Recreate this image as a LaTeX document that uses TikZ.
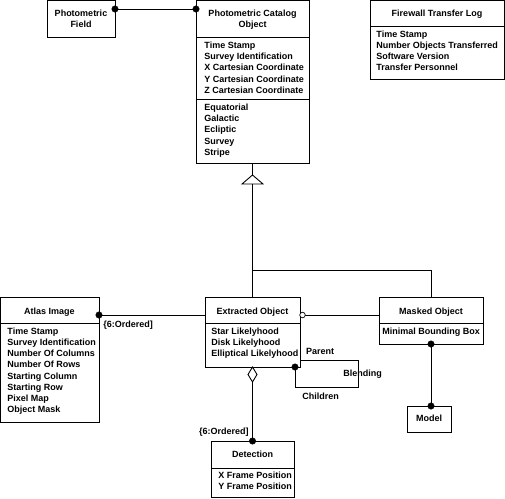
\documentclass[tikz,border=0pt]{standalone}
\usepackage{fontspec}
\setmainfont{Liberation Sans}
\begin{document}
\begin{tikzpicture}[x=1pt,y=-1pt,line width=0.9pt,
  box/.style={draw,anchor=north west,inner sep=0pt,outer sep=0pt},
  txt/.style={font=\fontsize{9}{11}\selectfont\bfseries,inner sep=0pt,text height=6.5pt,text depth=1.8pt},
  attr/.style={txt,anchor=west},
  ttl/.style={txt,anchor=center},
  dot/.style={circle,fill,draw,inner sep=0pt,minimum size=6.5pt,line width=0.4pt},
  odot/.style={circle,draw,fill=white,inner sep=0pt,minimum size=5.5pt,line width=0.7pt}]
\useasboundingbox (0,0) rectangle (505,498);

% ---------- boxes ----------
\node[box,minimum width=68pt,minimum height=36.5pt] (field) at (47,0.5) {};
\node[box,minimum width=113pt,minimum height=162.5pt] (cat) at (196,0.5) {};
\node[box,minimum width=134pt,minimum height=78.5pt] (fw) at (370,0.5) {};
\node[box,minimum width=98.5pt,minimum height=125pt] (atlas) at (0.5,297) {};
\node[box,minimum width=95pt,minimum height=70pt] (ext) at (205,297) {};
\node[box,minimum width=104pt,minimum height=47pt] (mask) at (379,297) {};
\node[box,minimum width=44pt,minimum height=26pt] (model) at (407,406) {};
\node[box,minimum width=83pt,minimum height=56pt] (det) at (211,441) {};

% dividers
\draw (cat.west |- 0,37) -- (cat.east |- 0,37);
\draw (cat.west |- 0,99) -- (cat.east |- 0,99);
\draw (fw.west |- 0,26) -- (fw.east |- 0,26);
\draw (atlas.west |- 0,323) -- (atlas.east |- 0,323);
\draw (ext.west |- 0,323) -- (ext.east |- 0,323);
\draw (mask.west |- 0,323) -- (mask.east |- 0,323);
\draw (det.west |- 0,468) -- (det.east |- 0,468);

% ---------- texts ----------
\node[ttl] (t1) at (81,14) {Photometric};
\node[ttl] (t2) at (81,25) {Field};

\node[ttl] (t3) at (252.5,14) {Photometric Catalog};
\node[ttl] (t4) at (252.5,25) {Object};
\node[attr] (c1) at (204,46) {Time Stamp};
\node[attr] (c2) at (204,57) {Survey Identification};
\node[attr] (c3) at (204,68.5) {X Cartesian Coordinate};
\node[attr] (c4) at (204,80) {Y Cartesian Coordinate};
\node[attr] (c5) at (204,91) {Z Cartesian Coordinate};
\node[attr] (c6) at (204,108) {Equatorial};
\node[attr] (c7) at (204,119) {Galactic};
\node[attr] (c8) at (204,130) {Ecliptic};
\node[attr] (c9) at (204,142) {Survey};
\node[attr] (c10) at (204,153) {Stripe};

\node[ttl] (t5) at (437,14) {Firewall Transfer Log};
\node[attr] (f1) at (376,35) {Time Stamp};
\node[attr] (f2) at (376,46) {Number Objects Transferred};
\node[attr] (f3) at (376,57) {Software Version};
\node[attr] (f4) at (376,68) {Transfer Personnel};

\node[ttl] (t6) at (49.5,312) {Atlas Image};
\node[attr] (a1) at (7,332) {Time Stamp};
\node[attr] (a2) at (7,343) {Survey Identification};
\node[attr] (a3) at (7,354.5) {Number Of Columns};
\node[attr] (a4) at (7,365.5) {Number Of Rows};
\node[attr] (a5) at (7,377) {Starting Column};
\node[attr] (a6) at (7,388) {Starting Row};
\node[attr] (a7) at (7,399) {Pixel Map};
\node[attr] (a8) at (7,410) {Object Mask};

\node[ttl] (t7) at (252.5,312) {Extracted Object};
\node[attr] (e1) at (211,332) {Star Likelyhood};
\node[attr] (e2) at (211,343) {Disk Likelyhood};
\node[attr] (e3) at (211,354) {Elliptical Likelyhood};

\node[ttl] (t8) at (431,312) {Masked Object};
\node[ttl] (m1) at (431,332) {Minimal Bounding Box};

\node[ttl] (t9) at (429,419) {Model};

\node[ttl] (t10) at (252.5,455) {Detection};
\node[attr] (d1) at (218,476) {X Frame Position};
\node[attr] (d2) at (218,487) {Y Frame Position};

% ---------- connectors ----------
% field -- catalog
\draw (field.east |- 0,9) -- (cat.west |- 0,9);
\node[dot] (fd1) at (field.east |- 0,9) {};
\node[dot] (fd2) at (cat.west |- 0,9) {};

% generalization
\coordinate (apex) at (252.5,175);
\coordinate (base) at (252.5,184);
\coordinate (bend) at (252.5,270);
\draw (cat.south) -- (apex);
\draw (apex) -- (242,184) -- (263,184) -- cycle;
\draw (base) -- (ext.north);
\draw (bend) -- (bend -| mask.north) -- (mask.north);

% atlas -- extracted
\draw (atlas.east |- 0,315) -- (ext.west |- 0,315);
\node[dot] (ad) at (atlas.east |- 0,315) {};
\node[attr] (o1) at (103,325) {\{6:Ordered]};

% extracted -- masked
\draw (ext.east |- 0,315) -- (mask.west |- 0,315);
\node[odot] (eo) at ([xshift=2.5pt]ext.east |- 0,315) {};

% blending self loop
\coordinate (bl1) at (295,367);
\draw (bl1) -- (295,387) -- (358,387) -- (358,360) -- (ext.east |- 0,360);
\node[dot] (bd) at (bl1) {};
\node[ttl] (p1) at (320,352) {Parent};
\node[attr] (p2) at (343,374) {Blending};
\node[attr] (p3) at (302,397) {Children};

% aggregation extracted -- detection
\draw[fill=white] (ext.south) -- (257,374.5) -- (252.5,382) -- (248,374.5) -- cycle;
\draw (252.5,382) -- (det.north);
\node[dot] (dd) at (det.north) {};
\node[txt,anchor=east] (o2) at (249,432) {\{6:Ordered]};

% masked -- model
\draw (mask.south) -- (mask.south |- model.north);
\node[dot] (md1) at (mask.south) {};
\node[dot] (md2) at (mask.south |- model.north) {};
\end{tikzpicture}
\end{document}
